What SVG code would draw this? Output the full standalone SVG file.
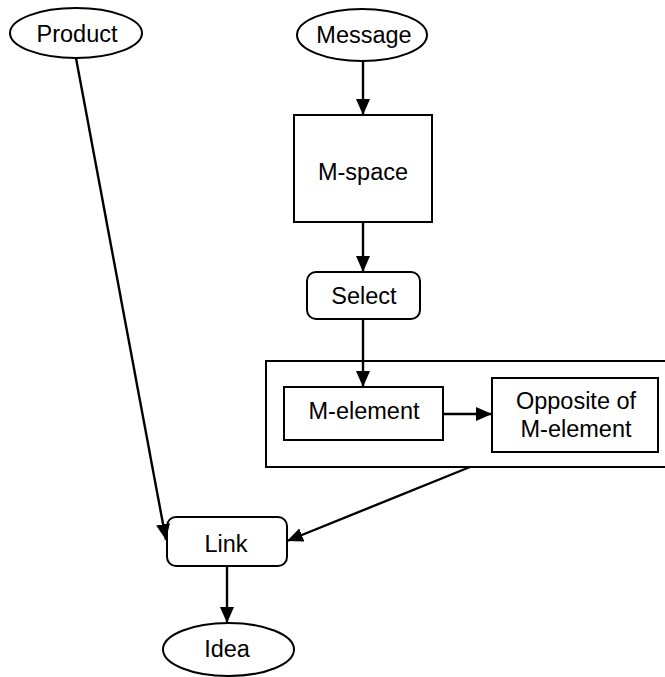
<svg xmlns="http://www.w3.org/2000/svg" width="665" height="677" viewBox="0 0 665 677">
  <style>
    .shape { fill: #ffffff; stroke: #000000; stroke-width: 2; }
    .label { font-family: "Liberation Sans", Arial, sans-serif; font-size: 23.5px; fill: #000000; text-anchor: middle; }
    .edge { stroke: #000000; stroke-width: 2.4; fill: none; marker-end: url(#arrow); }
  </style>
  <defs>
    <marker id="arrow" viewBox="0 0 16 16" refX="16" refY="8" markerWidth="16" markerHeight="16" markerUnits="userSpaceOnUse" orient="auto">
      <path d="M0,1 L16,8 L0,15 Z" fill="#000000"/>
    </marker>
  </defs>

  <rect width="665" height="677" fill="#ffffff"/>

  <!-- container holding the element pair -->
  <g id="element-group">
    <rect class="shape" x="266" y="361" width="404" height="106"/>
  </g>

  <g id="product">
    <ellipse class="shape" cx="76" cy="33" rx="66" ry="25"/>
    <text class="label" x="77" y="42">Product</text>
  </g>

  <g id="message">
    <ellipse class="shape" cx="362" cy="35" rx="65" ry="26"/>
    <text class="label" x="364" y="43">Message</text>
  </g>

  <g id="m-space">
    <rect class="shape" x="294" y="115" width="138" height="107"/>
    <text class="label" x="363" y="180">M-space</text>
  </g>

  <g id="select">
    <rect class="shape" x="307" y="272" width="113" height="47" rx="9" ry="9"/>
    <text class="label" x="364" y="304">Select</text>
  </g>

  <g id="m-element">
    <rect class="shape" x="284" y="387" width="159" height="53"/>
    <text class="label" x="364" y="419">M-element</text>
  </g>

  <g id="opposite">
    <rect class="shape" x="492" y="378" width="166" height="74"/>
    <text class="label" x="576" y="409">Opposite of</text>
    <text class="label" x="576" y="437">M-element</text>
  </g>

  <g id="link">
    <rect class="shape" x="167" y="517" width="120" height="49" rx="9" ry="9"/>
    <text class="label" x="226" y="552">Link</text>
  </g>

  <g id="idea">
    <ellipse class="shape" cx="228.5" cy="649.5" rx="65.5" ry="26.5"/>
    <text class="label" x="227" y="657">Idea</text>
  </g>

  <!-- connectors -->
  <g id="connectors">
    <line class="edge" x1="363" y1="61" x2="363" y2="115"/>
    <line class="edge" x1="363" y1="222" x2="363" y2="272"/>
    <line class="edge" x1="363" y1="319" x2="363" y2="387"/>
    <line class="edge" x1="443" y1="414" x2="492" y2="414"/>
    <line class="edge" x1="76" y1="58" x2="166" y2="540"/>
    <line class="edge" x1="470" y1="467" x2="287" y2="541"/>
    <line class="edge" x1="227" y1="566" x2="227" y2="623"/>
  </g>
</svg>
